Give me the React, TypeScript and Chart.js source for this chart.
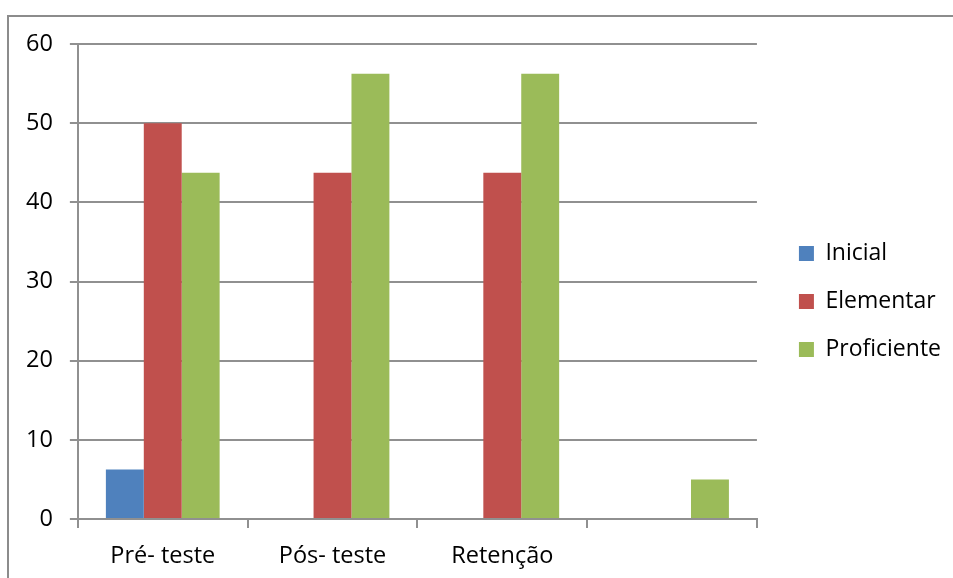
import React, { useEffect, useRef } from "react";
import { Chart, registerables } from "chart.js";

Chart.register(...registerables);

const categories = ["Pré- teste", "Pós- teste", "Retenção", ""];
const inicial = [6.25, 0, 0, 0];
const elementar = [50, 43.75, 43.75, 0];
const proficiente = [43.75, 56.25, 56.25, 5];
const seriesNames = ["Inicial", "Elementar", "Proficiente"];
const seriesColors = ["#4F81BD", "#C0504D", "#9BBB59"];
const yTicks = [0, 10, 20, 30, 40, 50, 60];

const FONT = "'Open Sans', 'Liberation Sans', sans-serif";
const GRID = "#909090";

export default function App() {
  const canvasRef = useRef<HTMLCanvasElement | null>(null);

  useEffect(() => {
    const canvas = canvasRef.current;
    if (!canvas) return;
    const values = [inicial, elementar, proficiente];
    const chart = new Chart(canvas, {
      type: "bar",
      data: {
        labels: categories,
        datasets: seriesNames.map((name, i) => ({
          label: name,
          data: values[i],
          backgroundColor: seriesColors[i],
          borderWidth: 0,
          categoryPercentage: 0.67,
          barPercentage: 1,
        })),
      },
      options: {
        animation: false,
        responsive: false,
        maintainAspectRatio: false,
        layout: { padding: { left: 9, top: 44, right: 2, bottom: 0 } },
        plugins: {
          tooltip: { enabled: false },
          title: { display: false },
          legend: {
            position: "right",
            align: "center",
            fullSize: false,
            // blank title block pushes the entries a little below the plot's middle
            title: {
              display: true,
              text: " ",
              font: { family: FONT, size: 10 },
              padding: 14,
            },
            labels: {
              font: { family: FONT, size: 23 },
              color: "#000",
              boxWidth: 15,
              boxHeight: 15,
              padding: 25,
            },
          },
        },
        scales: {
          x: {
            offset: true,
            grid: {
              offset: true,
              drawOnChartArea: false,
              drawTicks: true,
              tickLength: 9,
              color: GRID,
              lineWidth: 2,
            },
            border: { color: GRID, width: 2 },
            ticks: {
              font: { family: FONT, size: 23.5 },
              color: "#000",
              padding: 14,
              maxRotation: 0,
            },
            afterFit: (scale: any) => {
              scale.height = 59;
            },
          },
          y: {
            min: 0,
            max: 60,
            afterBuildTicks: (scale: any) => {
              scale.ticks = yTicks.map((v) => ({ value: v }));
            },
            grid: {
              color: GRID,
              lineWidth: 2,
              tickLength: 8,
            },
            border: { color: GRID, width: 2 },
            ticks: {
              font: { family: FONT, size: 23.5 },
              color: "#000",
              padding: 17,
            },
          },
          // hidden spacer that keeps the legend away from the plot
          gap: {
            type: "linear",
            position: "right",
            display: false,
            afterFit: (scale: any) => {
              scale.width = 17;
            },
          },
        },
      },
    });
    return () => chart.destroy();
  }, []);

  return (
    <div
      style={{
        position: "fixed",
        left: 0,
        top: 0,
        width: 953,
        height: 578,
        overflow: "hidden",
        background: "#fff",
      }}
    >
      <div
        style={{
          position: "absolute",
          left: 7,
          top: 15,
          width: 980,
          height: 620,
          border: "2px solid #8c8c8c",
          boxSizing: "border-box",
        }}
      />
      <canvas
        ref={canvasRef}
        width={953}
        height={578}
        style={{ position: "absolute", left: 0, top: 0, width: 953, height: 578 }}
      />
    </div>
  );
}
